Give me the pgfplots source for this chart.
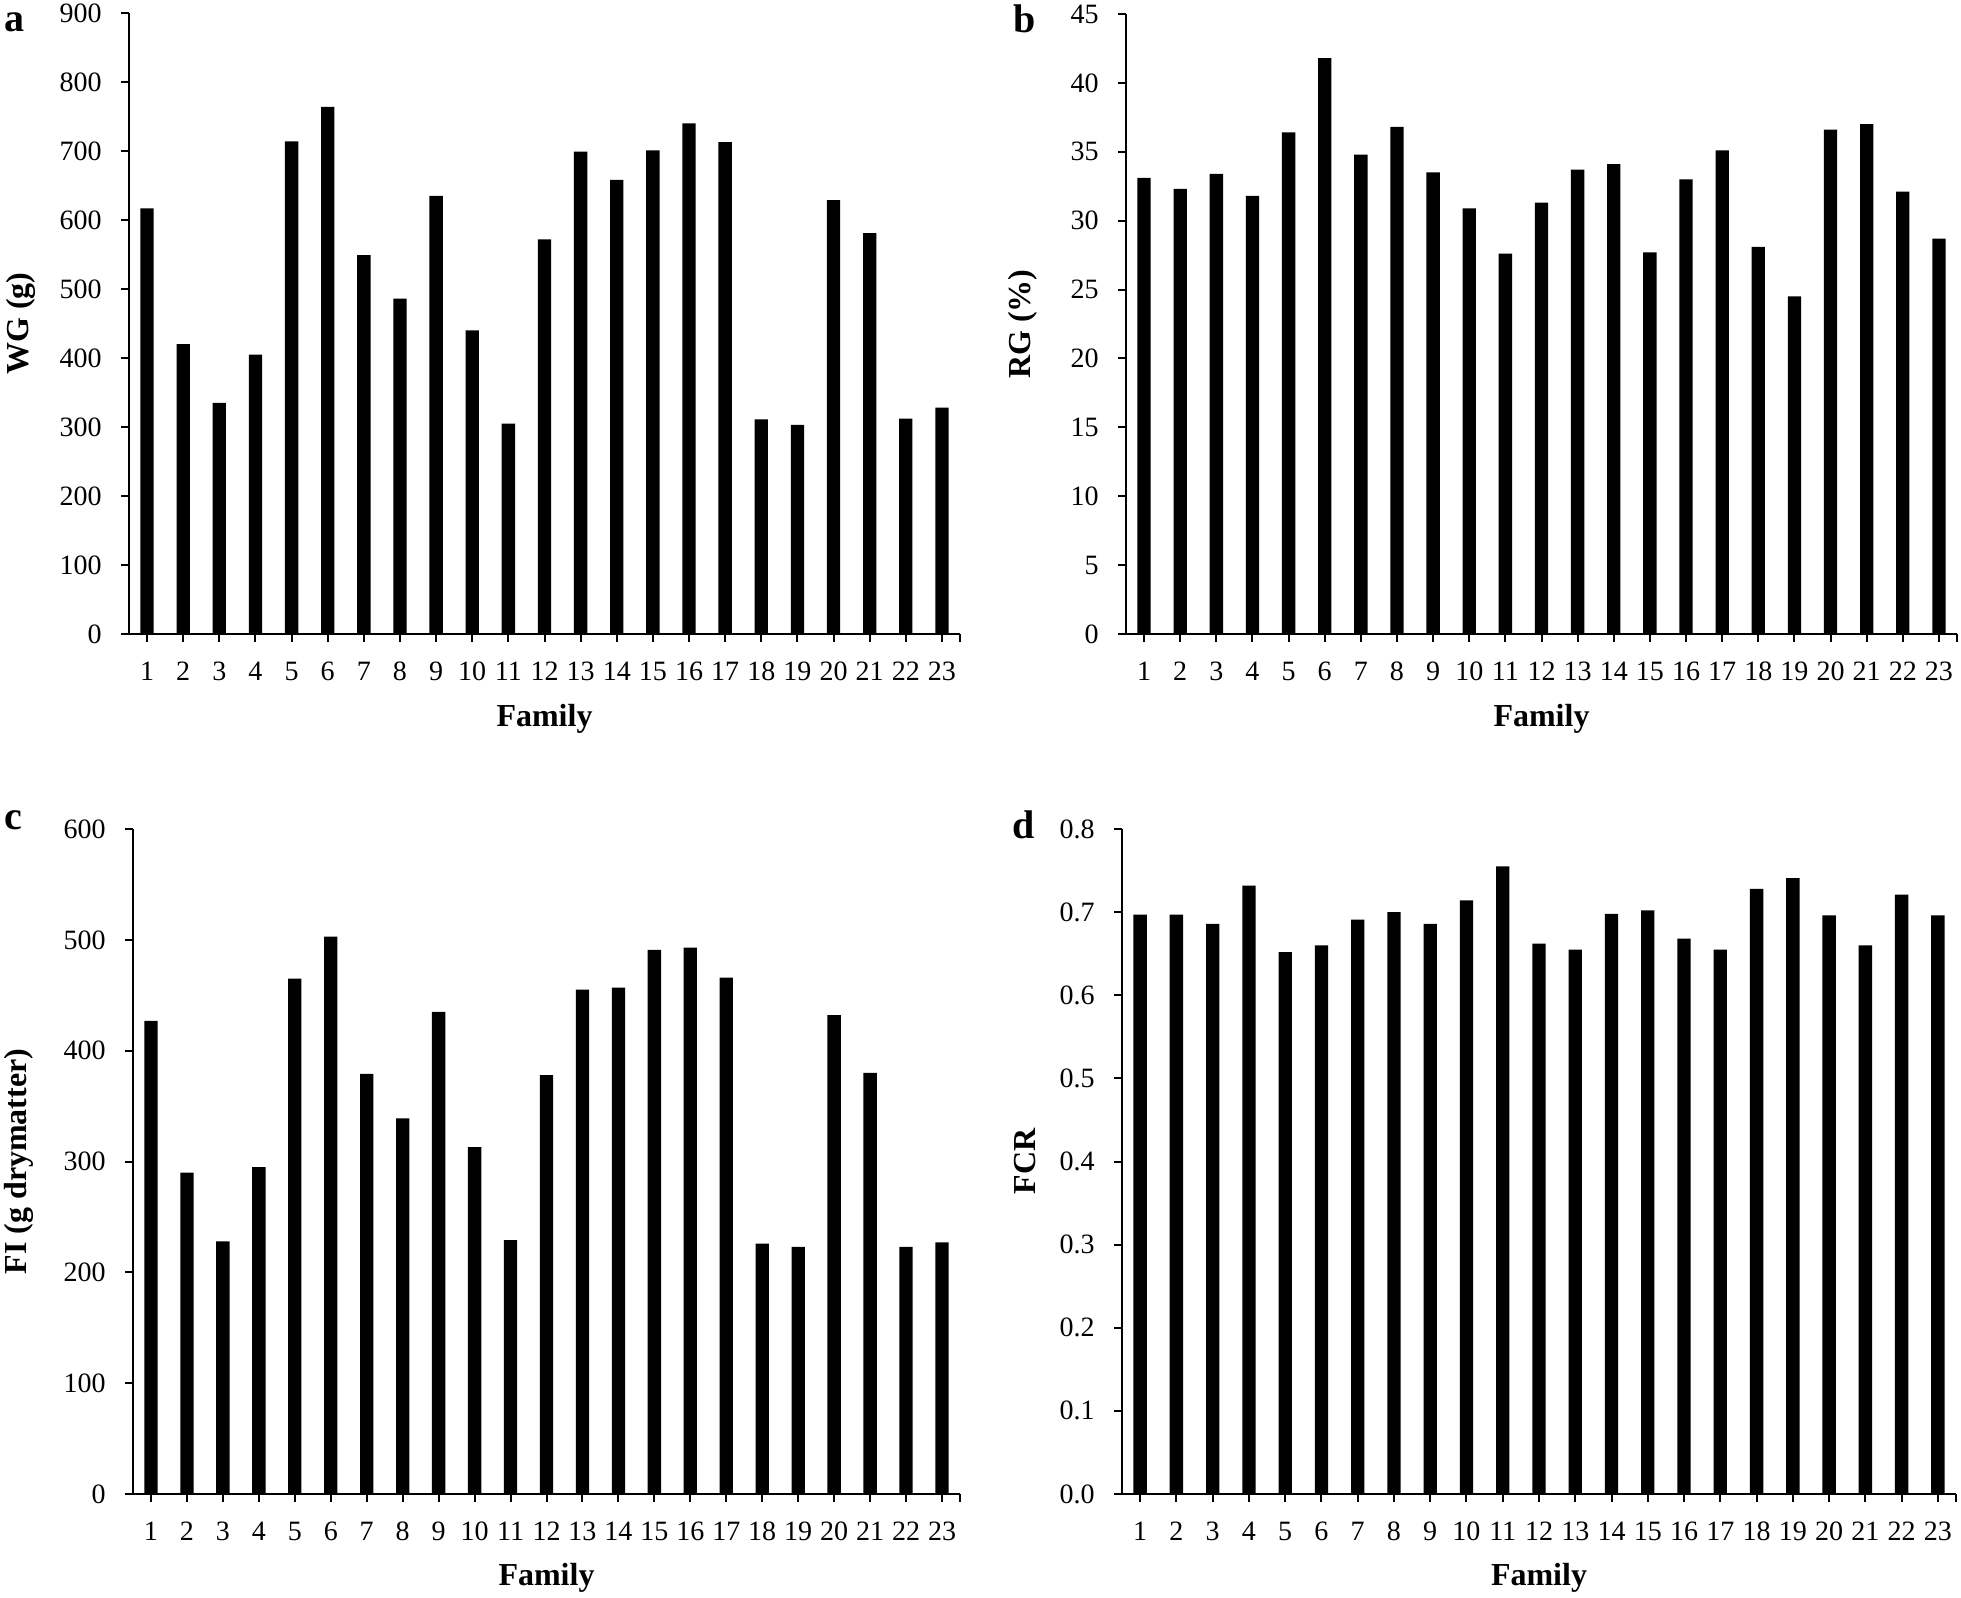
\documentclass[border=0pt]{standalone}
\usepackage{fontspec}
\setmainfont{Liberation Serif}
\usepackage{pgfplots}
\pgfplotsset{compat=1.18}
\pgfplotsset{
  panel/.style={
    scale only axis,
    anchor=south west,
    axis lines=left,
    axis line style={-, line width=0.6pt, black},
    tick align=outside,
    major tick length=2.3pt,
    tick style={line width=0.6pt, black},
    ymin=0,
    xmin=0.5, xmax=23.5,
    xtick={1,...,23},
    extra x ticks={23.5},
    extra x tick labels={},
    ybar, bar width=4pt,
    /pgf/number format/assume math mode=true,
    /pgf/number format/1000 sep={},
    tick label style={font=\fontsize{8.4}{10}\selectfont},
    xticklabel style={anchor=center, yshift=-8.8pt},
    yticklabel style={anchor=east, inner sep=0pt, xshift=-5.7pt},
    label style={font=\bfseries\fontsize{9.6}{11}\selectfont},
    xlabel={Family},
    xlabel style={at={(axis description cs:0.5,0)}, anchor=center, yshift=-25.5pt},
  },
  mybar/.style={fill=black, draw=none},
}
\begin{document}
\begin{tikzpicture}
\path[use as bounding box] (0,0) rectangle (588.3pt,479.1pt);

% panel a
\begin{axis}[panel, at={(38.7pt,288.9pt)}, width=249.3pt, height=186.3pt,
  ymax=900, ytick={0,100,...,900},
  ylabel={WG (g)},
  ylabel style={at={(axis description cs:0,0.5)}, anchor=center, yshift=32.5pt}]
\addplot[mybar] coordinates {(1,617)(2,420)(3,335)(4,405)(5,714)(6,764)(7,549)(8,486)(9,635)(10,440)(11,305)(12,572)(13,699)(14,658)(15,701)(16,740)(17,713)(18,311)(19,303)(20,629)(21,581)(22,312)(23,328)};
\end{axis}

% panel b
\begin{axis}[panel, at={(337.8pt,288.9pt)}, width=249.3pt, height=186.0pt,
  ymax=45, ytick={0,5,...,45},
  ylabel={RG (\%)},
  ylabel style={at={(axis description cs:0,0.5)}, anchor=center, yshift=31pt}]
\addplot[mybar] coordinates {(1,33.1)(2,32.3)(3,33.4)(4,31.8)(5,36.4)(6,41.8)(7,34.8)(8,36.8)(9,33.5)(10,30.9)(11,27.6)(12,31.3)(13,33.7)(14,34.1)(15,27.7)(16,33.0)(17,35.1)(18,28.1)(19,24.5)(20,36.6)(21,37.0)(22,32.1)(23,28.7)};
\end{axis}

% panel c
\begin{axis}[panel, at={(39.9pt,30.9pt)}, width=248.1pt, height=199.5pt,
  ymax=600, ytick={0,100,...,600},
  ylabel={FI (g drymatter)},
  xlabel style={yshift=0.3pt},
  ylabel style={at={(axis description cs:0,0.5)}, anchor=center, yshift=34.2pt}]
\addplot[mybar] coordinates {(1,427)(2,290)(3,228)(4,295)(5,465)(6,503)(7,379)(8,339)(9,435)(10,313)(11,229)(12,378)(13,455)(14,457)(15,491)(16,493)(17,466)(18,226)(19,223)(20,432)(21,380)(22,223)(23,227)};
\end{axis}

% panel d
\begin{axis}[panel, at={(336.6pt,30.9pt)}, width=250.2pt, height=199.5pt,
  ymax=0.8, ytick={0,0.1,...,0.8},
  yticklabel style={/pgf/number format/.cd, fixed, fixed zerofill, precision=1},
  ylabel={FCR},
  xlabel style={yshift=0.3pt},
  ylabel style={at={(axis description cs:0,0.5)}, anchor=center, yshift=29.1pt}]
\addplot[mybar] coordinates {(1,0.697)(2,0.697)(3,0.686)(4,0.732)(5,0.652)(6,0.660)(7,0.691)(8,0.700)(9,0.686)(10,0.714)(11,0.755)(12,0.662)(13,0.655)(14,0.698)(15,0.702)(16,0.668)(17,0.655)(18,0.728)(19,0.741)(20,0.696)(21,0.660)(22,0.721)(23,0.696)};
\end{axis}

\node[font=\bfseries\fontsize{12}{14}\selectfont, anchor=center] at (4.5pt,472.5pt) {a};
\node[font=\bfseries\fontsize{12}{14}\selectfont, anchor=center] at (307.5pt,473.4pt) {b};
\node[font=\bfseries\fontsize{12}{14}\selectfont, anchor=center] at (3.9pt,233.1pt) {c};
\node[font=\bfseries\fontsize{12}{14}\selectfont, anchor=center] at (307.2pt,231.6pt) {d};
\end{tikzpicture}
\end{document}
